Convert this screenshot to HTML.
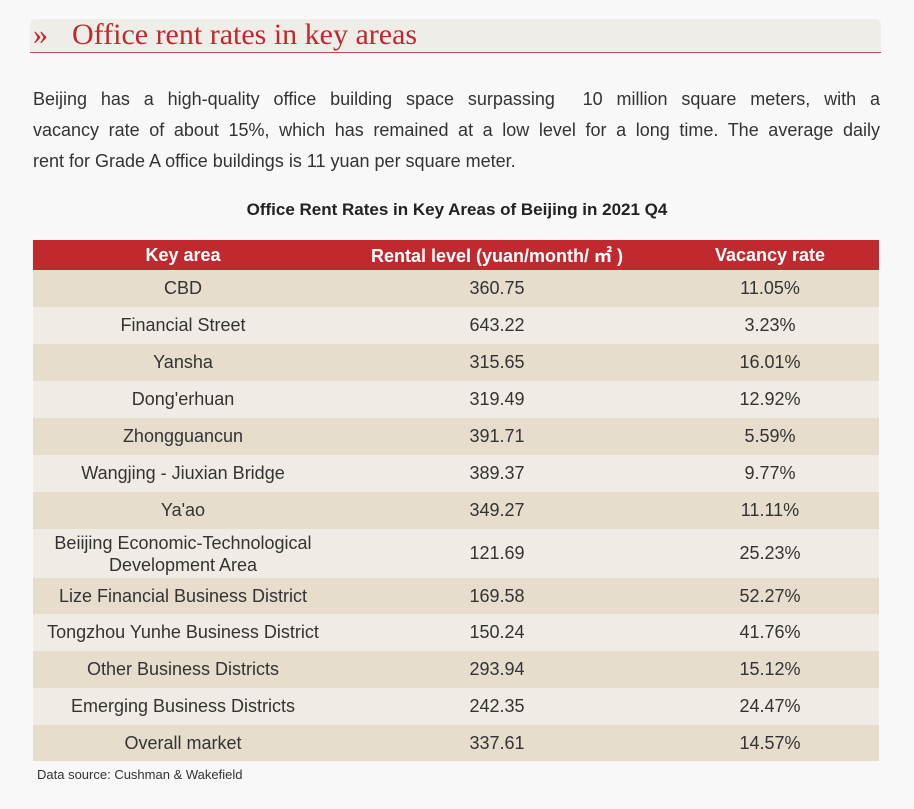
<!DOCTYPE html><html><head><style>
body{margin:0;width:914px;height:809px;background:#f8f8f8;font-family:"Liberation Sans","Noto Sans CJK SC",sans-serif;color:#333;position:relative;overflow:hidden}
.tb{position:absolute;left:30px;top:19px;width:851px;height:33px;background:#efede8;border-radius:5px 5px 0 0;border-bottom:1.5px solid #c9464a}
.tb span{position:absolute;left:3px;top:-1px;font-family:"Liberation Serif",serif;font-size:30px;color:#c0282d;white-space:nowrap}
.tb b{font-weight:normal;position:absolute;left:39px;top:0}
.p{position:absolute;left:33px;top:84px;width:847px;font-size:18px;line-height:31px;color:#333}
.p div{text-align:justify;text-align-last:justify;white-space:nowrap}
.p div.l{text-align-last:left}
.ct{position:absolute;top:200px;left:0;width:914px;text-align:center;font-weight:bold;font-size:17px;color:#222}
table{position:absolute;left:33px;top:240px;width:846px;border-collapse:collapse;font-size:18px}
td{text-align:center;padding:0;color:#333}
th{background:#c0292d;color:#fff;font-weight:bold;height:30px;font-size:18px;padding:0}
tr:nth-child(even) td{background:#e6ddcd}tr:nth-child(odd) td{background:#f0ece5}
td{height:37px}
.src{position:absolute;left:37px;top:767px;font-size:13px;color:#333}
</style></head><body>
<div class="tb"><span>»<b>Office rent rates in key areas</b></span></div>
<div class="p"><div>Beijing has a high-quality office building space surpassing&nbsp; 10 million square meters, with a</div><div>vacancy rate of about 15%, which has remained at a low level for a long time. The average daily</div><div class="l">rent for Grade A office buildings is 11 yuan per square meter.</div></div>
<div class="ct">Office Rent Rates in Key Areas of Beijing in 2021 Q4</div>
<table>
<tr><th style="width:300px">Key area</th><th style="width:328px">Rental level (yuan/month/ ㎡ )</th><th>Vacancy rate</th></tr>
<tr><td>CBD</td><td>360.75</td><td>11.05%</td></tr>
<tr><td>Financial Street</td><td>643.22</td><td>3.23%</td></tr>
<tr><td>Yansha</td><td>315.65</td><td>16.01%</td></tr>
<tr><td>Dong'erhuan</td><td>319.49</td><td>12.92%</td></tr>
<tr><td>Zhongguancun</td><td>391.71</td><td>5.59%</td></tr>
<tr><td>Wangjing - Jiuxian Bridge</td><td>389.37</td><td>9.77%</td></tr>
<tr><td>Ya'ao</td><td>349.27</td><td>11.11%</td></tr>
<tr><td style="height:49px;line-height:22px">Beiijing Economic-Technological<br>Development Area</td><td style="height:49px">121.69</td><td style="height:49px">25.23%</td></tr>
<tr><td style="height:36px">Lize Financial Business District</td><td style="height:36px">169.58</td><td style="height:36px">52.27%</td></tr>
<tr><td>Tongzhou Yunhe Business District</td><td>150.24</td><td>41.76%</td></tr>
<tr><td>Other Business Districts</td><td>293.94</td><td>15.12%</td></tr>
<tr><td>Emerging Business Districts</td><td>242.35</td><td>24.47%</td></tr>
<tr><td style="height:36px">Overall market</td><td style="height:36px">337.61</td><td style="height:36px">14.57%</td></tr>
</table>
<div class="src">Data source: Cushman &amp; Wakefield</div>
</body></html>
